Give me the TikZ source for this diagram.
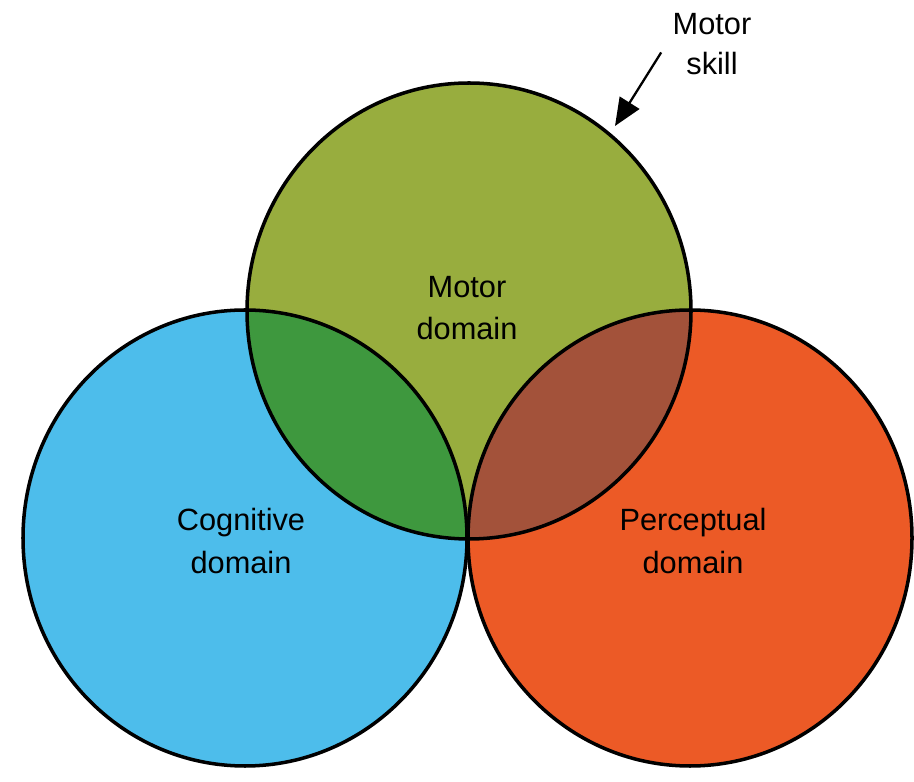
\documentclass[tikz,border=0pt]{standalone}
\usepackage{fontspec}
\setmainfont{Liberation Sans}
\usetikzlibrary{arrows.meta}

\begin{document}
\begin{tikzpicture}
    % Define colors for the three domains and their overlaps
        \definecolor{cogblue}{RGB}{77,189,235}      % Cognitive domain
        \definecolor{motorolive}{RGB}{152,173,62}   % Motor domain
        \definecolor{percred}{RGB}{236,90,38}       % Perceptual domain
        \definecolor{overlapgreen}{RGB}{62,152,62}  % Cognitive / Motor overlap
        \definecolor{overlapbrown}{RGB}{163,82,58}  % Motor / Perceptual overlap

        % Fix the size of the picture
        \useasboundingbox (0,0) rectangle (18.28,15.62);

        % Centres of the three circles
        \coordinate (cogc) at (4.90,4.86);
        \coordinate (motorc) at (9.38,9.40);
        \coordinate (percc) at (13.80,4.86);

        % Fill the three circles
        \fill[cogblue] (cogc) ellipse [x radius=4.44, y radius=4.56];
        \fill[motorolive] (motorc) ellipse [x radius=4.44, y radius=4.56];
        \fill[percred] (percc) ellipse [x radius=4.44, y radius=4.56];

        % Overlap of cognitive and motor domain
        \begin{scope}
            \clip (cogc) ellipse [x radius=4.44, y radius=4.56];
            \fill[overlapgreen] (motorc) ellipse [x radius=4.44, y radius=4.56];
        \end{scope}

        % Overlap of motor and perceptual domain
        \begin{scope}
            \clip (percc) ellipse [x radius=4.44, y radius=4.56];
            \fill[overlapbrown] (motorc) ellipse [x radius=4.44, y radius=4.56];
        \end{scope}

        % Draw the outlines of the circles
        \draw[line width=2pt] (cogc) ellipse [x radius=4.44, y radius=4.56];
        \draw[line width=2pt] (motorc) ellipse [x radius=4.44, y radius=4.56];
        \draw[line width=2pt] (percc) ellipse [x radius=4.44, y radius=4.56];

        % Labels inside the circles
        \node[align=center, font=\fontsize{17.5}{24}\selectfont] (motorlabel) at (9.34,9.46) {Motor\\domain};
        \node[align=center, font=\fontsize{17.5}{24}\selectfont] (coglabel) at (4.82,4.80) {Cognitive\\domain};
        \node[align=center, font=\fontsize{17.5}{24}\selectfont] (perclabel) at (13.86,4.80) {Perceptual\\domain};

        % Motor skill label with its arrow to the edge of the motor circle
        \node[align=center, font=\fontsize{17.5}{23}\selectfont] (skilllabel) at (14.24,14.74) {Motor\\skill};
        \coordinate (skilltip) at (12.30,13.10);
        \draw[-{Triangle[length=0.55cm, width=0.46cm]}, line width=1.3pt, shorten <=0.2cm] (skilllabel.west) -- (skilltip);

    \end{tikzpicture}
\end{document}
